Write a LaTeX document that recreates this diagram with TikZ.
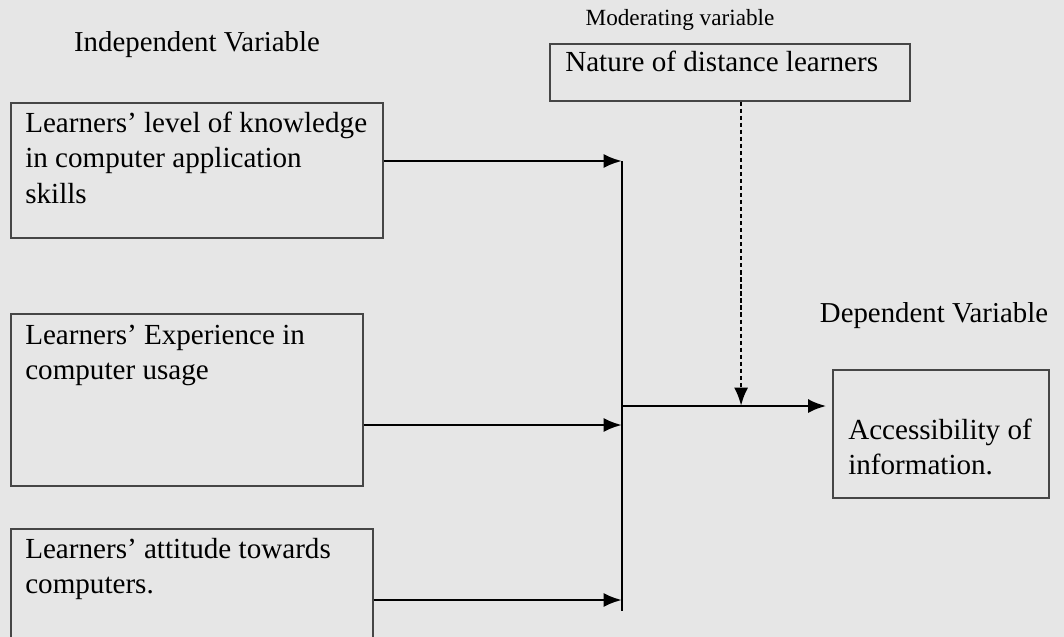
\documentclass[tikz,border=0pt]{standalone}
\usepackage{fontspec}
\setmainfont{Liberation Serif}
\usepackage{xcolor}
\usetikzlibrary{positioning, calc, arrows.meta}
\definecolor{paper}{RGB}{230,230,230}
\definecolor{boxline}{RGB}{70,70,70}

\begin{document}
\begin{tikzpicture}[x=0.025cm, y=-0.025cm, >={Latex[length=13pt,width=10pt]},
    box/.style={draw=boxline, line width=1.1pt, inner sep=0pt, anchor=north west},
    txt/.style={inner sep=0pt, anchor=north west, align=left, font=\fontsize{20.7}{25}\selectfont},
    head/.style={inner sep=0pt, font=\fontsize{20.5}{24}\selectfont},
    conn/.style={line width=2pt}]

    \fill[paper] (0,0) rectangle (1064,637);
    \useasboundingbox (0,0) rectangle (1064,637);

    % Boxes
    \node[box, minimum width=9.3cm, minimum height=3.375cm] (know) at (10,102) {};
    \node[box, minimum width=8.8cm, minimum height=4.3cm] (exper) at (10,313) {};
    \node[box, minimum width=9.05cm, minimum height=3cm] (attit) at (10,528) {};
    \node[box, minimum width=9cm, minimum height=1.425cm] (moder) at (549,43) {};
    \node[box, minimum width=5.4cm, minimum height=3.2cm] (access) at (832,369) {};

    % Box texts
    \node[txt] (knowT) at ([shift={(15,10)}]know.north west) {Learners’ level of knowledge\\in computer application\\skills};
    \node[txt] (experT) at ([shift={(15,12)}]exper.north west) {Learners’ Experience in\\computer usage};
    \node[txt] (attitT) at ([shift={(15,10)}]attit.north west) {Learners’ attitude towards\\computers.};
    \node[txt] (moderT) at ([shift={(16,8)}]moder.north west) {Nature of distance learners};
    \node[txt] (accessT) at ([shift={(16,50)}]access.north west) {Accessibility of\\information.};

    % Headings
    \node[head] (indep) at (197,45) {Independent Variable};
    \node[head, font=\fontsize{16.5}{20}\selectfont] (modV) at (680,20) {Moderating variable};
    \node[head] (depV) at (934,316) {Dependent Variable};

    % Bus and arrows
    \coordinate (busTop) at (622,161);
    \coordinate (busBot) at (622,611);
    \coordinate (in2) at (622,425);
    \coordinate (in3) at (622,600);
    \coordinate (busMid) at (622,406);
    \draw[conn] (busTop) -- (busBot);
    \draw[conn,->] (know.east |- busTop) -- (busTop);
    \draw[conn,->] (exper.east |- in2) -- (in2);
    \draw[conn,->] (attit.east |- in3) -- (in3);
    \draw[conn,->] (busMid) -- ([xshift=-4]access.west |- busMid);
    \draw[conn,densely dashed,->] ([xshift=8]moder.south) -- ([xshift=8]moder.south |- busMid);
\end{tikzpicture}
\end{document}
